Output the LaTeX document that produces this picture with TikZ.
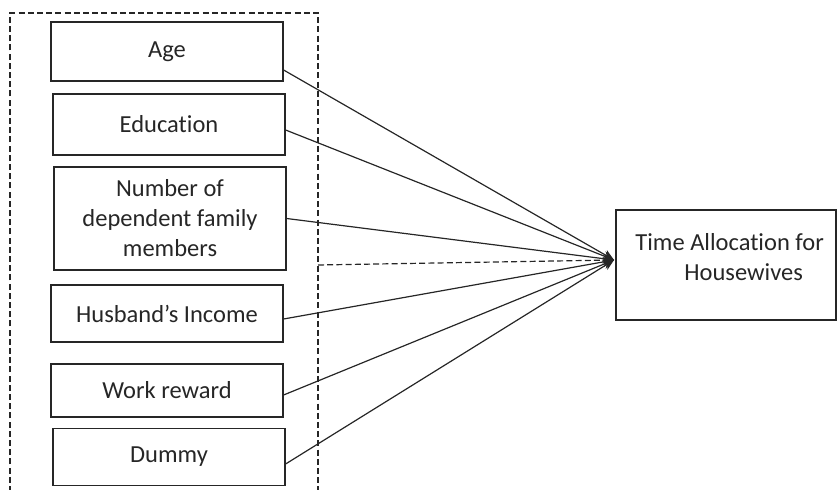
\documentclass[tikz,border=0pt]{standalone}
\usepackage{fontspec}
\setmainfont{Carlito}[Ligatures={NoCommon}]
\usetikzlibrary{arrows.meta}
\begin{document}
\begin{tikzpicture}[x=0.5pt,y=-0.5pt,
  font=\fontsize{12.25pt}{15pt}\selectfont,
  varbox/.style={draw=black!85,line width=0.6pt,minimum width=116pt,inner sep=0pt,align=center,text=black!85},
  link/.style={draw=black!85,line width=0.6pt,-{Stealth[length=5.5pt,width=5pt]}},
  dashline/.style={draw=black!85,line width=0.6pt,dash pattern=on 3pt off 1.6pt}]
\useasboundingbox (0,0) rectangle (838,490);
\draw[dashline] (10,492) -- (10,13) -- (318,13) -- (318,492);
\node[varbox,minimum height=29.5pt] (age) at (167,51.5) {Age};
\node[varbox,minimum height=30.5pt] (edu) at (169,124.5) {Education};
\node[varbox,minimum height=51.5pt] (num) at (170,218.5) {Number of\\dependent family\\members};
\node[varbox,minimum height=28.5pt] (inc) at (167,313.5) {Husband’s Income};
\node[varbox,minimum height=26.5pt] (work) at (167,390.5) {Work reward};
\node[varbox,minimum height=28.5pt] (dum) at (169,457) {Dummy};
\node[draw=black!85,line width=0.6pt,minimum width=110pt,minimum height=55pt,inner sep=0pt] (out) at (726,265) {};
\node[anchor=west,align=left,inner sep=0pt,text=black!85] (outtext) at (635,257) {Time Allocation for\\\hspace*{24.5pt}Housewives};
\coordinate (tip) at (614,260);
\coordinate (dstart) at (318,265);
\draw[link] ([yshift=-9.25pt]age.east) -- (tip);
\draw[link] ([yshift=-2.75pt]edu.east) -- (tip);
\draw[link] (num.east) -- (tip);
\draw[link] ([yshift=-2.75pt]inc.east) -- (tip);
\draw[link] ([yshift=-2.25pt]work.east) -- (tip);
\draw[link] ([yshift=-3.5pt]dum.east) -- (tip);
\draw[dashline,-{Stealth[length=5.5pt,width=5pt]}] (dstart) -- (tip);
\end{tikzpicture}
\end{document}
